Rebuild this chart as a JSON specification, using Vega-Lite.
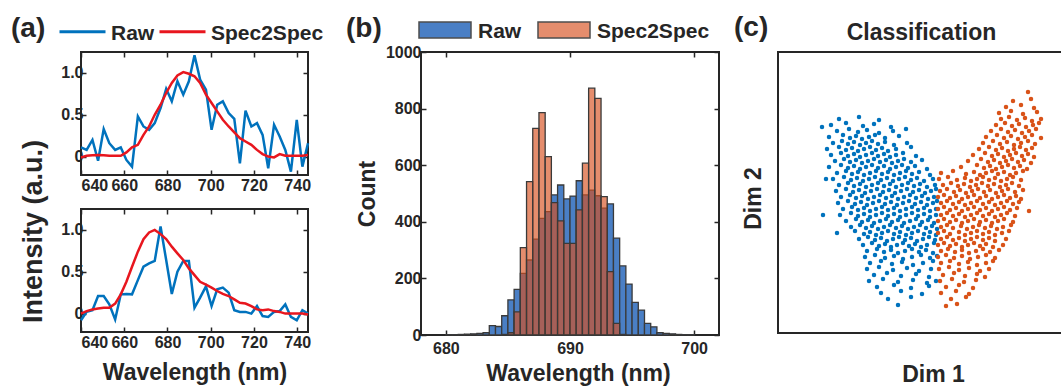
{
  "$schema": "https://vega.github.io/schema/vega-lite/v6.json",
  "background": "white",
  "padding": {"left": 10, "top": 14, "right": 0, "bottom": 0},
  "config": {
    "font": "Liberation Sans",
    "view": {"stroke": "#262626", "strokeWidth": 2},
    "axis": {"domain": false, "grid": false, "labelFont": "Liberation Sans", "labelFontWeight": "bold", "labelFontSize": 16, "labelColor": "#262626", "titleFont": "Liberation Sans", "titleFontWeight": "bold", "titleFontSize": 23, "titleColor": "#262626", "tickColor": "#262626", "tickWidth": 1.5, "tickSize": -5, "labelPadding": 7},
    "legend": {"padding": 0, "orient": "none", "direction": "horizontal", "titleOrient": "left", "titleFont": "Liberation Sans", "titleFontWeight": "bold", "titleFontSize": 28, "titleColor": "#262626", "labelFont": "Liberation Sans", "labelFontWeight": "bold", "labelFontSize": 21, "labelColor": "#262626"}
  },
  "datasets": {
    "specTop": [
      {"w":640,"s":"Raw","v":0.11},{"w":642.6,"s":"Raw","v":0.08},{"w":645.3,"s":"Raw","v":0.2},{"w":647.9,"s":"Raw","v":-0.05},{"w":650.5,"s":"Raw","v":0.33},{"w":653.1,"s":"Raw","v":0.16},{"w":655.8,"s":"Raw","v":0.08},{"w":658.4,"s":"Raw","v":0.11},{"w":661,"s":"Raw","v":-0.04},{"w":663.6,"s":"Raw","v":-0.12},{"w":666.3,"s":"Raw","v":0.48},{"w":668.9,"s":"Raw","v":0.36},{"w":671.5,"s":"Raw","v":0.32},{"w":674.1,"s":"Raw","v":0.4},{"w":676.8,"s":"Raw","v":0.58},{"w":679.4,"s":"Raw","v":0.81},{"w":682,"s":"Raw","v":0.66},{"w":684.6,"s":"Raw","v":0.9},{"w":687.3,"s":"Raw","v":0.74},{"w":689.9,"s":"Raw","v":0.9},{"w":692.5,"s":"Raw","v":1.21},{"w":695.1,"s":"Raw","v":0.92},{"w":697.8,"s":"Raw","v":0.8},{"w":700.4,"s":"Raw","v":0.32},{"w":703,"s":"Raw","v":0.62},{"w":705.6,"s":"Raw","v":0.66},{"w":708.3,"s":"Raw","v":0.52},{"w":710.9,"s":"Raw","v":0.45},{"w":713.5,"s":"Raw","v":-0.08},{"w":716.1,"s":"Raw","v":0.55},{"w":718.8,"s":"Raw","v":0.36},{"w":721.4,"s":"Raw","v":0.4},{"w":724,"s":"Raw","v":0.26},{"w":726.6,"s":"Raw","v":-0.14},{"w":729.3,"s":"Raw","v":0.38},{"w":731.9,"s":"Raw","v":0.24},{"w":734.5,"s":"Raw","v":0.08},{"w":737.1,"s":"Raw","v":-0.18},{"w":739.8,"s":"Raw","v":0.44},{"w":742.4,"s":"Raw","v":-0.12},{"w":745,"s":"Raw","v":0.16},
      {"w":640,"s":"Spec2Spec","v":-0.01},{"w":642.6,"s":"Spec2Spec","v":0.01},{"w":645.3,"s":"Spec2Spec","v":0.015},{"w":647.9,"s":"Spec2Spec","v":0.02},{"w":650.5,"s":"Spec2Spec","v":0.015},{"w":653.1,"s":"Spec2Spec","v":0.01},{"w":655.8,"s":"Spec2Spec","v":0.01},{"w":658.4,"s":"Spec2Spec","v":0.01},{"w":661,"s":"Spec2Spec","v":0.05},{"w":663.6,"s":"Spec2Spec","v":0.11},{"w":666.3,"s":"Spec2Spec","v":0.14},{"w":668.9,"s":"Spec2Spec","v":0.26},{"w":671.5,"s":"Spec2Spec","v":0.36},{"w":674.1,"s":"Spec2Spec","v":0.5},{"w":676.8,"s":"Spec2Spec","v":0.62},{"w":679.4,"s":"Spec2Spec","v":0.76},{"w":682,"s":"Spec2Spec","v":0.88},{"w":684.6,"s":"Spec2Spec","v":0.97},{"w":687.3,"s":"Spec2Spec","v":1.01},{"w":689.9,"s":"Spec2Spec","v":0.99},{"w":692.5,"s":"Spec2Spec","v":0.96},{"w":695.1,"s":"Spec2Spec","v":0.88},{"w":697.8,"s":"Spec2Spec","v":0.74},{"w":700.4,"s":"Spec2Spec","v":0.64},{"w":703,"s":"Spec2Spec","v":0.54},{"w":705.6,"s":"Spec2Spec","v":0.44},{"w":708.3,"s":"Spec2Spec","v":0.36},{"w":710.9,"s":"Spec2Spec","v":0.29},{"w":713.5,"s":"Spec2Spec","v":0.22},{"w":716.1,"s":"Spec2Spec","v":0.18},{"w":718.8,"s":"Spec2Spec","v":0.14},{"w":721.4,"s":"Spec2Spec","v":0.08},{"w":724,"s":"Spec2Spec","v":0.03},{"w":726.6,"s":"Spec2Spec","v":0},{"w":729.3,"s":"Spec2Spec","v":-0.01},{"w":731.9,"s":"Spec2Spec","v":0.03},{"w":734.5,"s":"Spec2Spec","v":0.01},{"w":737.1,"s":"Spec2Spec","v":0.01},{"w":739.8,"s":"Spec2Spec","v":0.01},{"w":742.4,"s":"Spec2Spec","v":0.01},{"w":745,"s":"Spec2Spec","v":0.02}
    ],
    "specBottom": [
      {"w":640,"s":"Raw","v":-0.08},{"w":642.6,"s":"Raw","v":0.02},{"w":645.3,"s":"Raw","v":0.04},{"w":647.9,"s":"Raw","v":0.21},{"w":650.5,"s":"Raw","v":0.21},{"w":653.1,"s":"Raw","v":0.11},{"w":655.8,"s":"Raw","v":-0.07},{"w":658.4,"s":"Raw","v":0.23},{"w":661,"s":"Raw","v":0.235},{"w":663.6,"s":"Raw","v":0.23},{"w":666.3,"s":"Raw","v":0.4},{"w":668.9,"s":"Raw","v":0.56},{"w":671.5,"s":"Raw","v":0.6},{"w":674.1,"s":"Raw","v":0.63},{"w":676.8,"s":"Raw","v":1.04},{"w":679.4,"s":"Raw","v":0.64},{"w":682,"s":"Raw","v":0.235},{"w":684.6,"s":"Raw","v":0.5},{"w":687.3,"s":"Raw","v":0.63},{"w":689.9,"s":"Raw","v":0.63},{"w":692.5,"s":"Raw","v":0.07},{"w":695.1,"s":"Raw","v":0.19},{"w":697.8,"s":"Raw","v":0.325},{"w":700.4,"s":"Raw","v":0.09},{"w":703,"s":"Raw","v":0.29},{"w":705.6,"s":"Raw","v":0.31},{"w":708.3,"s":"Raw","v":0.25},{"w":710.9,"s":"Raw","v":0.04},{"w":713.5,"s":"Raw","v":0.02},{"w":716.1,"s":"Raw","v":0.02},{"w":718.8,"s":"Raw","v":0},{"w":721.4,"s":"Raw","v":0.09},{"w":724,"s":"Raw","v":-0.03},{"w":726.6,"s":"Raw","v":-0.04},{"w":729.3,"s":"Raw","v":0.02},{"w":731.9,"s":"Raw","v":0.03},{"w":734.5,"s":"Raw","v":0.11},{"w":737.1,"s":"Raw","v":-0.04},{"w":739.8,"s":"Raw","v":-0.08},{"w":742.4,"s":"Raw","v":0.04},{"w":745,"s":"Raw","v":0},
      {"w":640,"s":"Spec2Spec","v":0},{"w":642.6,"s":"Spec2Spec","v":0.03},{"w":645.3,"s":"Spec2Spec","v":0.05},{"w":647.9,"s":"Spec2Spec","v":0.06},{"w":650.5,"s":"Spec2Spec","v":0.07},{"w":653.1,"s":"Spec2Spec","v":0.07},{"w":655.8,"s":"Spec2Spec","v":0.12},{"w":658.4,"s":"Spec2Spec","v":0.23},{"w":661,"s":"Spec2Spec","v":0.38},{"w":663.6,"s":"Spec2Spec","v":0.56},{"w":666.3,"s":"Spec2Spec","v":0.74},{"w":668.9,"s":"Spec2Spec","v":0.89},{"w":671.5,"s":"Spec2Spec","v":0.97},{"w":674.1,"s":"Spec2Spec","v":1.0},{"w":676.8,"s":"Spec2Spec","v":0.95},{"w":679.4,"s":"Spec2Spec","v":0.89},{"w":682,"s":"Spec2Spec","v":0.8},{"w":684.6,"s":"Spec2Spec","v":0.72},{"w":687.3,"s":"Spec2Spec","v":0.64},{"w":689.9,"s":"Spec2Spec","v":0.54},{"w":692.5,"s":"Spec2Spec","v":0.46},{"w":695.1,"s":"Spec2Spec","v":0.38},{"w":697.8,"s":"Spec2Spec","v":0.345},{"w":700.4,"s":"Spec2Spec","v":0.31},{"w":703,"s":"Spec2Spec","v":0.27},{"w":705.6,"s":"Spec2Spec","v":0.235},{"w":708.3,"s":"Spec2Spec","v":0.21},{"w":710.9,"s":"Spec2Spec","v":0.17},{"w":713.5,"s":"Spec2Spec","v":0.13},{"w":716.1,"s":"Spec2Spec","v":0.12},{"w":718.8,"s":"Spec2Spec","v":0.09},{"w":721.4,"s":"Spec2Spec","v":0.05},{"w":724,"s":"Spec2Spec","v":0.04},{"w":726.6,"s":"Spec2Spec","v":0.05},{"w":729.3,"s":"Spec2Spec","v":0.03},{"w":731.9,"s":"Spec2Spec","v":0.02},{"w":734.5,"s":"Spec2Spec","v":0},{"w":737.1,"s":"Spec2Spec","v":0},{"w":739.8,"s":"Spec2Spec","v":0},{"w":742.4,"s":"Spec2Spec","v":0},{"w":745,"s":"Spec2Spec","v":-0.01}
    ],
    "hist": [
      {"b":680,"e":680.5,"s":"Raw","n":1},{"b":680.5,"e":681,"s":"Raw","n":1},{"b":681,"e":681.5,"s":"Raw","n":2},{"b":681.5,"e":682,"s":"Raw","n":3},{"b":682,"e":682.5,"s":"Raw","n":4},{"b":682.5,"e":683,"s":"Raw","n":6},{"b":683,"e":683.5,"s":"Raw","n":8},{"b":683.5,"e":684,"s":"Raw","n":33},{"b":684,"e":684.5,"s":"Raw","n":30},{"b":684.5,"e":685,"s":"Raw","n":68},{"b":685,"e":685.5,"s":"Raw","n":124},{"b":685.5,"e":686,"s":"Raw","n":161},{"b":686,"e":686.5,"s":"Raw","n":218},{"b":686.5,"e":687,"s":"Raw","n":265},{"b":687,"e":687.5,"s":"Raw","n":339},{"b":687.5,"e":688,"s":"Raw","n":412},{"b":688,"e":688.5,"s":"Raw","n":436},{"b":688.5,"e":689,"s":"Raw","n":495},{"b":689,"e":689.5,"s":"Raw","n":530},{"b":689.5,"e":690,"s":"Raw","n":481},{"b":690,"e":690.5,"s":"Raw","n":491},{"b":690.5,"e":691,"s":"Raw","n":545},{"b":691,"e":691.5,"s":"Raw","n":495},{"b":691.5,"e":692,"s":"Raw","n":512},{"b":692,"e":692.5,"s":"Raw","n":492},{"b":692.5,"e":693,"s":"Raw","n":448},{"b":693,"e":693.5,"s":"Raw","n":463},{"b":693.5,"e":694,"s":"Raw","n":342},{"b":694,"e":694.5,"s":"Raw","n":244},{"b":694.5,"e":695,"s":"Raw","n":180},{"b":695,"e":695.5,"s":"Raw","n":115},{"b":695.5,"e":696,"s":"Raw","n":88},{"b":696,"e":696.5,"s":"Raw","n":41},{"b":696.5,"e":697,"s":"Raw","n":29},{"b":697,"e":697.5,"s":"Raw","n":8},{"b":697.5,"e":698,"s":"Raw","n":6},{"b":698,"e":698.5,"s":"Raw","n":4},{"b":698.5,"e":699,"s":"Raw","n":2},{"b":699,"e":699.5,"s":"Raw","n":1},{"b":699.5,"e":700,"s":"Raw","n":1},
      {"b":684.5,"e":685,"s":"Spec2Spec","n":2},{"b":685,"e":685.5,"s":"Spec2Spec","n":8},{"b":685.5,"e":686,"s":"Spec2Spec","n":82},{"b":686,"e":686.5,"s":"Spec2Spec","n":309},{"b":686.5,"e":687,"s":"Spec2Spec","n":542},{"b":687,"e":687.5,"s":"Spec2Spec","n":730},{"b":687.5,"e":688,"s":"Spec2Spec","n":786},{"b":688,"e":688.5,"s":"Spec2Spec","n":630},{"b":688.5,"e":689,"s":"Spec2Spec","n":468},{"b":689,"e":689.5,"s":"Spec2Spec","n":403},{"b":689.5,"e":690,"s":"Spec2Spec","n":324},{"b":690,"e":690.5,"s":"Spec2Spec","n":324},{"b":690.5,"e":691,"s":"Spec2Spec","n":442},{"b":691,"e":691.5,"s":"Spec2Spec","n":607},{"b":691.5,"e":692,"s":"Spec2Spec","n":872},{"b":692,"e":692.5,"s":"Spec2Spec","n":836},{"b":692.5,"e":693,"s":"Spec2Spec","n":489},{"b":693,"e":693.5,"s":"Spec2Spec","n":224},{"b":693.5,"e":694,"s":"Spec2Spec","n":41},{"b":694,"e":694.5,"s":"Spec2Spec","n":2}
    ],
    "scatter": [
      {"c":"A","x":61,"y":214},{"c":"A","x":81,"y":216},{"c":"A","x":101,"y":213},
      {"c":"A","x":53,"y":208},{"c":"A","x":68,"y":210},{"c":"A","x":85,"y":207},{"c":"A","x":96,"y":209},{"c":"A","x":113,"y":206},{"c":"A","x":44,"y":206},
      {"c":"A","x":59,"y":202},{"c":"A","x":71,"y":204},{"c":"A","x":80,"y":201},{"c":"A","x":89,"y":203},{"c":"A","x":101,"y":200},{"c":"A","x":115,"y":202},{"c":"A","x":128,"y":204},
      {"c":"A","x":51,"y":196},{"c":"A","x":65,"y":198},{"c":"A","x":72,"y":195},{"c":"A","x":78,"y":197},{"c":"A","x":84,"y":194},{"c":"A","x":91,"y":196},{"c":"A","x":97,"y":198},{"c":"A","x":107,"y":195},{"c":"A","x":121,"y":197},
      {"c":"A","x":55,"y":190},{"c":"A","x":64,"y":192},{"c":"A","x":70,"y":189},{"c":"A","x":76,"y":191},{"c":"A","x":82,"y":188},{"c":"A","x":88,"y":190},{"c":"A","x":94,"y":192},{"c":"A","x":100,"y":189},{"c":"A","x":107,"y":191},{"c":"A","x":116,"y":188},{"c":"A","x":129,"y":190},
      {"c":"A","x":49,"y":184},{"c":"A","x":61,"y":186},{"c":"A","x":68,"y":183},{"c":"A","x":74,"y":185},{"c":"A","x":80,"y":182},{"c":"A","x":86,"y":184},{"c":"A","x":92,"y":186},{"c":"A","x":98,"y":183},{"c":"A","x":104,"y":185},{"c":"A","x":110,"y":182},{"c":"A","x":118,"y":184},{"c":"A","x":133,"y":186},
      {"c":"A","x":53,"y":178},{"c":"A","x":63,"y":180},{"c":"A","x":70,"y":177},{"c":"A","x":76,"y":179},{"c":"A","x":82,"y":176},{"c":"A","x":88,"y":178},{"c":"A","x":94,"y":180},{"c":"A","x":100,"y":177},{"c":"A","x":106,"y":179},{"c":"A","x":112,"y":176},{"c":"A","x":118,"y":178},{"c":"A","x":125,"y":180},{"c":"A","x":138,"y":177},
      {"c":"A","x":57,"y":172},{"c":"A","x":66,"y":174},{"c":"A","x":72,"y":171},{"c":"A","x":78,"y":173},{"c":"A","x":84,"y":170},{"c":"A","x":90,"y":172},{"c":"A","x":96,"y":174},{"c":"A","x":102,"y":171},{"c":"A","x":108,"y":173},{"c":"A","x":114,"y":170},{"c":"A","x":120,"y":172},{"c":"A","x":126,"y":174},{"c":"A","x":133,"y":171},{"c":"A","x":144,"y":173},
      {"c":"A","x":51,"y":166},{"c":"A","x":63,"y":168},{"c":"A","x":70,"y":165},{"c":"A","x":76,"y":167},{"c":"A","x":82,"y":164},{"c":"A","x":88,"y":166},{"c":"A","x":94,"y":168},{"c":"A","x":100,"y":165},{"c":"A","x":106,"y":167},{"c":"A","x":112,"y":164},{"c":"A","x":118,"y":166},{"c":"A","x":124,"y":168},{"c":"A","x":130,"y":165},{"c":"A","x":137,"y":167},{"c":"A","x":149,"y":164},
      {"c":"A","x":59,"y":160},{"c":"A","x":68,"y":162},{"c":"A","x":74,"y":159},{"c":"A","x":80,"y":161},{"c":"A","x":86,"y":158},{"c":"A","x":92,"y":160},{"c":"A","x":98,"y":162},{"c":"A","x":104,"y":159},{"c":"A","x":110,"y":161},{"c":"A","x":116,"y":158},{"c":"A","x":122,"y":160},{"c":"A","x":128,"y":162},{"c":"A","x":134,"y":159},{"c":"A","x":141,"y":161},{"c":"A","x":152,"y":158},
      {"c":"A","x":55,"y":154},{"c":"A","x":66,"y":156},{"c":"A","x":73,"y":153},{"c":"A","x":79,"y":155},{"c":"A","x":85,"y":152},{"c":"A","x":91,"y":154},{"c":"A","x":97,"y":156},{"c":"A","x":103,"y":153},{"c":"A","x":109,"y":155},{"c":"A","x":115,"y":152},{"c":"A","x":121,"y":154},{"c":"A","x":127,"y":156},{"c":"A","x":133,"y":153},{"c":"A","x":139,"y":155},{"c":"A","x":146,"y":152},{"c":"A","x":155,"y":154},{"c":"A","x":48,"y":154},
      {"c":"A","x":61,"y":148},{"c":"A","x":70,"y":150},{"c":"A","x":76,"y":147},{"c":"A","x":82,"y":149},{"c":"A","x":88,"y":146},{"c":"A","x":94,"y":148},{"c":"A","x":100,"y":150},{"c":"A","x":106,"y":147},{"c":"A","x":112,"y":149},{"c":"A","x":118,"y":146},{"c":"A","x":124,"y":148},{"c":"A","x":130,"y":150},{"c":"A","x":136,"y":147},{"c":"A","x":142,"y":149},{"c":"A","x":149,"y":146},{"c":"A","x":157,"y":148},
      {"c":"A","x":58,"y":142},{"c":"A","x":68,"y":144},{"c":"A","x":75,"y":141},{"c":"A","x":81,"y":143},{"c":"A","x":87,"y":140},{"c":"A","x":93,"y":142},{"c":"A","x":99,"y":144},{"c":"A","x":105,"y":141},{"c":"A","x":111,"y":143},{"c":"A","x":117,"y":140},{"c":"A","x":123,"y":142},{"c":"A","x":129,"y":144},{"c":"A","x":135,"y":141},{"c":"A","x":141,"y":143},{"c":"A","x":147,"y":140},{"c":"A","x":153,"y":142},{"c":"A","x":158,"y":144},
      {"c":"A","x":63,"y":136},{"c":"A","x":72,"y":138},{"c":"A","x":78,"y":135},{"c":"A","x":84,"y":137},{"c":"A","x":90,"y":134},{"c":"A","x":96,"y":136},{"c":"A","x":102,"y":138},{"c":"A","x":108,"y":135},{"c":"A","x":114,"y":137},{"c":"A","x":120,"y":134},{"c":"A","x":126,"y":136},{"c":"A","x":132,"y":138},{"c":"A","x":138,"y":135},{"c":"A","x":144,"y":137},{"c":"A","x":150,"y":134},{"c":"A","x":156,"y":136},
      {"c":"A","x":60,"y":130},{"c":"A","x":70,"y":132},{"c":"A","x":77,"y":129},{"c":"A","x":83,"y":131},{"c":"A","x":89,"y":128},{"c":"A","x":95,"y":130},{"c":"A","x":101,"y":132},{"c":"A","x":107,"y":129},{"c":"A","x":113,"y":131},{"c":"A","x":119,"y":128},{"c":"A","x":125,"y":130},{"c":"A","x":131,"y":132},{"c":"A","x":137,"y":129},{"c":"A","x":143,"y":131},{"c":"A","x":149,"y":128},{"c":"A","x":155,"y":130},{"c":"A","x":159,"y":132},
      {"c":"A","x":65,"y":124},{"c":"A","x":74,"y":126},{"c":"A","x":80,"y":123},{"c":"A","x":86,"y":125},{"c":"A","x":92,"y":122},{"c":"A","x":98,"y":124},{"c":"A","x":104,"y":126},{"c":"A","x":110,"y":123},{"c":"A","x":116,"y":125},{"c":"A","x":122,"y":122},{"c":"A","x":128,"y":124},{"c":"A","x":134,"y":126},{"c":"A","x":140,"y":123},{"c":"A","x":146,"y":125},{"c":"A","x":152,"y":122},{"c":"A","x":158,"y":124},
      {"c":"A","x":62,"y":118},{"c":"A","x":73,"y":120},{"c":"A","x":80,"y":117},{"c":"A","x":86,"y":119},{"c":"A","x":92,"y":116},{"c":"A","x":98,"y":118},{"c":"A","x":104,"y":120},{"c":"A","x":110,"y":117},{"c":"A","x":116,"y":119},{"c":"A","x":122,"y":116},{"c":"A","x":128,"y":118},{"c":"A","x":134,"y":120},{"c":"A","x":140,"y":117},{"c":"A","x":146,"y":119},{"c":"A","x":152,"y":116},{"c":"A","x":158,"y":118},{"c":"A","x":45,"y":118},
      {"c":"A","x":68,"y":112},{"c":"A","x":78,"y":114},{"c":"A","x":84,"y":111},{"c":"A","x":90,"y":113},{"c":"A","x":96,"y":110},{"c":"A","x":102,"y":112},{"c":"A","x":108,"y":114},{"c":"A","x":114,"y":111},{"c":"A","x":120,"y":113},{"c":"A","x":126,"y":110},{"c":"A","x":132,"y":112},{"c":"A","x":138,"y":114},{"c":"A","x":144,"y":111},{"c":"A","x":150,"y":113},{"c":"A","x":156,"y":110},
      {"c":"A","x":73,"y":106},{"c":"A","x":82,"y":108},{"c":"A","x":88,"y":105},{"c":"A","x":94,"y":107},{"c":"A","x":100,"y":104},{"c":"A","x":106,"y":106},{"c":"A","x":112,"y":108},{"c":"A","x":118,"y":105},{"c":"A","x":124,"y":107},{"c":"A","x":130,"y":104},{"c":"A","x":136,"y":106},{"c":"A","x":142,"y":108},{"c":"A","x":148,"y":105},{"c":"A","x":154,"y":107},{"c":"A","x":159,"y":104},
      {"c":"A","x":59,"y":100},{"c":"A","x":77,"y":102},{"c":"A","x":86,"y":99},{"c":"A","x":92,"y":101},{"c":"A","x":98,"y":98},{"c":"A","x":104,"y":100},{"c":"A","x":110,"y":102},{"c":"A","x":116,"y":99},{"c":"A","x":122,"y":101},{"c":"A","x":128,"y":98},{"c":"A","x":134,"y":100},{"c":"A","x":140,"y":102},{"c":"A","x":146,"y":99},{"c":"A","x":152,"y":101},{"c":"A","x":158,"y":98},
      {"c":"A","x":81,"y":94},{"c":"A","x":90,"y":96},{"c":"A","x":97,"y":93},{"c":"A","x":103,"y":95},{"c":"A","x":109,"y":92},{"c":"A","x":115,"y":94},{"c":"A","x":121,"y":96},{"c":"A","x":127,"y":93},{"c":"A","x":133,"y":95},{"c":"A","x":139,"y":92},{"c":"A","x":145,"y":94},{"c":"A","x":151,"y":96},{"c":"A","x":157,"y":93},
      {"c":"A","x":85,"y":88},{"c":"A","x":94,"y":90},{"c":"A","x":101,"y":87},{"c":"A","x":107,"y":89},{"c":"A","x":113,"y":86},{"c":"A","x":119,"y":88},{"c":"A","x":125,"y":90},{"c":"A","x":131,"y":87},{"c":"A","x":137,"y":89},{"c":"A","x":143,"y":86},{"c":"A","x":149,"y":88},{"c":"A","x":156,"y":90},
      {"c":"A","x":89,"y":82},{"c":"A","x":99,"y":84},{"c":"A","x":106,"y":81},{"c":"A","x":113,"y":83},{"c":"A","x":120,"y":80},{"c":"A","x":127,"y":82},{"c":"A","x":134,"y":84},{"c":"A","x":141,"y":81},{"c":"A","x":148,"y":83},{"c":"A","x":155,"y":80},
      {"c":"A","x":87,"y":76},{"c":"A","x":97,"y":78},{"c":"A","x":107,"y":75},{"c":"A","x":116,"y":77},{"c":"A","x":125,"y":74},{"c":"A","x":134,"y":76},{"c":"A","x":143,"y":78},{"c":"A","x":152,"y":75},{"c":"A","x":159,"y":77},
      {"c":"A","x":92,"y":70},{"c":"A","x":103,"y":72},{"c":"A","x":114,"y":69},{"c":"A","x":124,"y":71},{"c":"A","x":135,"y":68},{"c":"A","x":145,"y":70},{"c":"A","x":155,"y":72},
      {"c":"A","x":89,"y":64},{"c":"A","x":101,"y":66},{"c":"A","x":115,"y":63},{"c":"A","x":129,"y":65},{"c":"A","x":141,"y":62},{"c":"A","x":153,"y":64},
      {"c":"A","x":96,"y":58},{"c":"A","x":109,"y":60},{"c":"A","x":123,"y":57},{"c":"A","x":138,"y":59},{"c":"A","x":151,"y":56},
      {"c":"A","x":91,"y":52},{"c":"A","x":105,"y":54},{"c":"A","x":120,"y":51},{"c":"A","x":135,"y":53},{"c":"A","x":149,"y":50},{"c":"A","x":158,"y":52},
      {"c":"A","x":99,"y":46},{"c":"A","x":116,"y":48},{"c":"A","x":133,"y":45},{"c":"A","x":151,"y":47},
      {"c":"A","x":103,"y":40},{"c":"A","x":123,"y":42},{"c":"A","x":144,"y":39},
      {"c":"A","x":110,"y":34},{"c":"A","x":133,"y":36},
      {"c":"A","x":120,"y":28},
      {"c":"B","x":250,"y":241},
      {"c":"B","x":235,"y":232},{"c":"B","x":253,"y":234},
      {"c":"B","x":228,"y":226},{"c":"B","x":243,"y":228},{"c":"B","x":256,"y":225},
      {"c":"B","x":221,"y":220},{"c":"B","x":233,"y":222},{"c":"B","x":245,"y":219},{"c":"B","x":259,"y":221},
      {"c":"B","x":223,"y":214},{"c":"B","x":231,"y":216},{"c":"B","x":239,"y":213},{"c":"B","x":247,"y":215},{"c":"B","x":254,"y":212},{"c":"B","x":263,"y":214},
      {"c":"B","x":218,"y":208},{"c":"B","x":227,"y":210},{"c":"B","x":234,"y":207},{"c":"B","x":241,"y":209},{"c":"B","x":248,"y":206},{"c":"B","x":255,"y":208},{"c":"B","x":261,"y":210},
      {"c":"B","x":213,"y":202},{"c":"B","x":223,"y":204},{"c":"B","x":230,"y":201},{"c":"B","x":237,"y":203},{"c":"B","x":244,"y":200},{"c":"B","x":251,"y":202},{"c":"B","x":258,"y":204},
      {"c":"B","x":208,"y":196},{"c":"B","x":219,"y":198},{"c":"B","x":226,"y":195},{"c":"B","x":233,"y":197},{"c":"B","x":240,"y":194},{"c":"B","x":247,"y":196},{"c":"B","x":254,"y":198},{"c":"B","x":263,"y":195},
      {"c":"B","x":205,"y":190},{"c":"B","x":215,"y":192},{"c":"B","x":222,"y":189},{"c":"B","x":229,"y":191},{"c":"B","x":236,"y":188},{"c":"B","x":243,"y":190},{"c":"B","x":250,"y":192},{"c":"B","x":257,"y":189},
      {"c":"B","x":201,"y":184},{"c":"B","x":211,"y":186},{"c":"B","x":218,"y":183},{"c":"B","x":224,"y":185},{"c":"B","x":230,"y":182},{"c":"B","x":236,"y":184},{"c":"B","x":242,"y":186},{"c":"B","x":248,"y":183},{"c":"B","x":254,"y":185},
      {"c":"B","x":195,"y":178},{"c":"B","x":207,"y":180},{"c":"B","x":214,"y":177},{"c":"B","x":220,"y":179},{"c":"B","x":226,"y":176},{"c":"B","x":232,"y":178},{"c":"B","x":238,"y":180},{"c":"B","x":244,"y":177},{"c":"B","x":250,"y":179},{"c":"B","x":256,"y":176},
      {"c":"B","x":190,"y":172},{"c":"B","x":203,"y":174},{"c":"B","x":210,"y":171},{"c":"B","x":216,"y":173},{"c":"B","x":222,"y":170},{"c":"B","x":228,"y":172},{"c":"B","x":234,"y":174},{"c":"B","x":240,"y":171},{"c":"B","x":246,"y":173},{"c":"B","x":253,"y":170},
      {"c":"B","x":183,"y":166},{"c":"B","x":199,"y":168},{"c":"B","x":206,"y":165},{"c":"B","x":212,"y":167},{"c":"B","x":218,"y":164},{"c":"B","x":224,"y":166},{"c":"B","x":230,"y":168},{"c":"B","x":236,"y":165},{"c":"B","x":242,"y":167},{"c":"B","x":249,"y":164},
      {"c":"B","x":163,"y":160},{"c":"B","x":175,"y":162},{"c":"B","x":188,"y":159},{"c":"B","x":196,"y":161},{"c":"B","x":202,"y":158},{"c":"B","x":208,"y":160},{"c":"B","x":214,"y":162},{"c":"B","x":220,"y":159},{"c":"B","x":226,"y":161},{"c":"B","x":232,"y":158},{"c":"B","x":238,"y":160},{"c":"B","x":245,"y":162},
      {"c":"B","x":161,"y":154},{"c":"B","x":170,"y":156},{"c":"B","x":179,"y":153},{"c":"B","x":187,"y":155},{"c":"B","x":193,"y":152},{"c":"B","x":199,"y":154},{"c":"B","x":205,"y":156},{"c":"B","x":211,"y":153},{"c":"B","x":217,"y":155},{"c":"B","x":223,"y":152},{"c":"B","x":229,"y":154},{"c":"B","x":235,"y":156},{"c":"B","x":243,"y":153},
      {"c":"B","x":165,"y":148},{"c":"B","x":173,"y":150},{"c":"B","x":180,"y":147},{"c":"B","x":186,"y":149},{"c":"B","x":192,"y":146},{"c":"B","x":198,"y":148},{"c":"B","x":204,"y":150},{"c":"B","x":210,"y":147},{"c":"B","x":216,"y":149},{"c":"B","x":222,"y":146},{"c":"B","x":228,"y":148},{"c":"B","x":234,"y":150},{"c":"B","x":241,"y":147},
      {"c":"B","x":162,"y":142},{"c":"B","x":169,"y":144},{"c":"B","x":176,"y":141},{"c":"B","x":182,"y":143},{"c":"B","x":188,"y":140},{"c":"B","x":194,"y":142},{"c":"B","x":200,"y":144},{"c":"B","x":206,"y":141},{"c":"B","x":212,"y":143},{"c":"B","x":218,"y":140},{"c":"B","x":224,"y":142},{"c":"B","x":230,"y":144},{"c":"B","x":237,"y":141},{"c":"B","x":245,"y":143},
      {"c":"B","x":160,"y":136},{"c":"B","x":166,"y":138},{"c":"B","x":172,"y":135},{"c":"B","x":178,"y":137},{"c":"B","x":184,"y":134},{"c":"B","x":190,"y":136},{"c":"B","x":196,"y":138},{"c":"B","x":202,"y":135},{"c":"B","x":208,"y":137},{"c":"B","x":214,"y":134},{"c":"B","x":220,"y":136},{"c":"B","x":226,"y":138},{"c":"B","x":232,"y":135},{"c":"B","x":238,"y":137},{"c":"B","x":243,"y":134},
      {"c":"B","x":163,"y":130},{"c":"B","x":169,"y":132},{"c":"B","x":175,"y":129},{"c":"B","x":181,"y":131},{"c":"B","x":187,"y":128},{"c":"B","x":193,"y":130},{"c":"B","x":199,"y":132},{"c":"B","x":205,"y":129},{"c":"B","x":211,"y":131},{"c":"B","x":217,"y":128},{"c":"B","x":223,"y":130},{"c":"B","x":229,"y":132},{"c":"B","x":235,"y":129},{"c":"B","x":241,"y":131},
      {"c":"B","x":160,"y":124},{"c":"B","x":166,"y":126},{"c":"B","x":172,"y":123},{"c":"B","x":178,"y":125},{"c":"B","x":184,"y":122},{"c":"B","x":190,"y":124},{"c":"B","x":196,"y":126},{"c":"B","x":202,"y":123},{"c":"B","x":208,"y":125},{"c":"B","x":214,"y":122},{"c":"B","x":220,"y":124},{"c":"B","x":226,"y":126},{"c":"B","x":232,"y":123},{"c":"B","x":239,"y":125},{"c":"B","x":251,"y":122},
      {"c":"B","x":163,"y":118},{"c":"B","x":169,"y":120},{"c":"B","x":175,"y":117},{"c":"B","x":181,"y":119},{"c":"B","x":187,"y":116},{"c":"B","x":193,"y":118},{"c":"B","x":199,"y":120},{"c":"B","x":205,"y":117},{"c":"B","x":211,"y":119},{"c":"B","x":217,"y":116},{"c":"B","x":223,"y":118},{"c":"B","x":229,"y":120},{"c":"B","x":237,"y":117},
      {"c":"B","x":160,"y":112},{"c":"B","x":166,"y":114},{"c":"B","x":172,"y":111},{"c":"B","x":178,"y":113},{"c":"B","x":184,"y":110},{"c":"B","x":190,"y":112},{"c":"B","x":196,"y":114},{"c":"B","x":202,"y":111},{"c":"B","x":208,"y":113},{"c":"B","x":214,"y":110},{"c":"B","x":220,"y":112},{"c":"B","x":226,"y":114},{"c":"B","x":235,"y":111},
      {"c":"B","x":163,"y":106},{"c":"B","x":169,"y":108},{"c":"B","x":175,"y":105},{"c":"B","x":183,"y":107},{"c":"B","x":189,"y":104},{"c":"B","x":195,"y":106},{"c":"B","x":201,"y":108},{"c":"B","x":207,"y":105},{"c":"B","x":213,"y":107},{"c":"B","x":219,"y":104},{"c":"B","x":225,"y":106},{"c":"B","x":233,"y":108},
      {"c":"B","x":160,"y":100},{"c":"B","x":166,"y":102},{"c":"B","x":172,"y":99},{"c":"B","x":181,"y":101},{"c":"B","x":187,"y":98},{"c":"B","x":193,"y":100},{"c":"B","x":199,"y":102},{"c":"B","x":205,"y":99},{"c":"B","x":211,"y":101},{"c":"B","x":217,"y":98},{"c":"B","x":224,"y":100},{"c":"B","x":231,"y":102},
      {"c":"B","x":163,"y":94},{"c":"B","x":169,"y":96},{"c":"B","x":175,"y":93},{"c":"B","x":181,"y":95},{"c":"B","x":187,"y":92},{"c":"B","x":193,"y":94},{"c":"B","x":199,"y":96},{"c":"B","x":205,"y":93},{"c":"B","x":211,"y":95},{"c":"B","x":217,"y":92},{"c":"B","x":228,"y":94},
      {"c":"B","x":160,"y":88},{"c":"B","x":166,"y":90},{"c":"B","x":172,"y":87},{"c":"B","x":178,"y":89},{"c":"B","x":184,"y":86},{"c":"B","x":190,"y":88},{"c":"B","x":196,"y":90},{"c":"B","x":202,"y":87},{"c":"B","x":208,"y":89},{"c":"B","x":215,"y":86},{"c":"B","x":225,"y":88},
      {"c":"B","x":163,"y":82},{"c":"B","x":170,"y":84},{"c":"B","x":177,"y":81},{"c":"B","x":184,"y":83},{"c":"B","x":191,"y":80},{"c":"B","x":198,"y":82},{"c":"B","x":205,"y":84},{"c":"B","x":212,"y":81},{"c":"B","x":221,"y":83},
      {"c":"B","x":160,"y":76},{"c":"B","x":168,"y":78},{"c":"B","x":176,"y":75},{"c":"B","x":184,"y":77},{"c":"B","x":192,"y":74},{"c":"B","x":200,"y":76},{"c":"B","x":208,"y":78},{"c":"B","x":217,"y":75},
      {"c":"B","x":163,"y":70},{"c":"B","x":172,"y":72},{"c":"B","x":181,"y":69},{"c":"B","x":190,"y":71},{"c":"B","x":199,"y":68},{"c":"B","x":208,"y":70},{"c":"B","x":215,"y":72},
      {"c":"B","x":161,"y":64},{"c":"B","x":171,"y":66},{"c":"B","x":181,"y":63},{"c":"B","x":191,"y":65},{"c":"B","x":202,"y":62},{"c":"B","x":211,"y":64},
      {"c":"B","x":165,"y":58},{"c":"B","x":176,"y":60},{"c":"B","x":187,"y":57},{"c":"B","x":199,"y":59},{"c":"B","x":207,"y":56},
      {"c":"B","x":162,"y":52},{"c":"B","x":174,"y":54},{"c":"B","x":186,"y":51},{"c":"B","x":198,"y":53},
      {"c":"B","x":168,"y":46},{"c":"B","x":181,"y":48},{"c":"B","x":195,"y":45},
      {"c":"B","x":163,"y":40},{"c":"B","x":178,"y":42},{"c":"B","x":191,"y":39},
      {"c":"B","x":173,"y":34},{"c":"B","x":188,"y":36},
      {"c":"B","x":168,"y":27},{"c":"B","x":179,"y":29}
    ]
  },
  "bounds": "flush",
  "spacing": 340,
  "resolve": {"scale": {"color": "independent", "fillOpacity": "independent"}, "legend": {"color": "independent", "fillOpacity": "independent"}},
  "hconcat": [
    {
      "bounds": "flush",
      "spacing": 34,
      "resolve": {"scale": {"color": "independent"}, "legend": {"color": "independent"}},
      "vconcat": [
        {
          "width": 227,
          "height": 123,
          "data": {"name": "specTop"},
          "layer": [
            {
              "mark": {"type": "line", "strokeWidth": 2.5},
              "encoding": {
                "x": {"field": "w", "type": "quantitative", "scale": {"domain": [640, 745], "nice": false, "zero": false}, "axis": {"values": [640, 660, 680, 700, 720, 740], "title": null, "labelPadding": 7}},
                "y": {"field": "v", "type": "quantitative", "scale": {"domain": [-0.22, 1.25], "nice": false, "zero": false}, "axis": {"values": [0, 0.5, 1], "labelExpr": "datum.value === 0 ? '0' : format(datum.value, '.1f')", "title": null, "labelPadding": 3}},
                "color": {"field": "s", "type": "nominal", "scale": {"domain": ["Raw", "Spec2Spec"], "range": ["#0072BD", "#E8161E"]}, "legend": {"title": "(a)", "legendX": -70, "legendY": -37, "symbolType": "M-1,-0.35H1", "symbolSize": 2116, "symbolStrokeWidth": 3, "labelOffset": 4, "labelBaseline": "alphabetic", "columnPadding": -2, "titlePadding": 12}}
              }
            },
            {
              "mark": {"type": "line", "strokeOpacity": 0},
              "encoding": {
                "x": {"field": "w", "type": "quantitative", "scale": {"domain": [640, 745], "nice": false, "zero": false}, "axis": {"orient": "top", "values": [640, 660, 680, 700, 720, 740], "labels": false, "title": null}},
                "y": {"field": "v", "type": "quantitative", "scale": {"domain": [-0.22, 1.25], "nice": false, "zero": false}, "axis": {"orient": "right", "values": [0, 0.5, 1], "labels": false, "title": null}},
                "detail": {"field": "s"}
              }
            }
          ],
          "resolve": {"axis": {"x": "independent", "y": "independent"}}
        },
        {
          "width": 227,
          "height": 123,
          "data": {"name": "specBottom"},
          "layer": [
            {
              "mark": {"type": "line", "strokeWidth": 2.5},
              "encoding": {
                "x": {"field": "w", "type": "quantitative", "scale": {"domain": [640, 745], "nice": false, "zero": false}, "axis": {"values": [640, 660, 680, 700, 720, 740], "title": "Wavelength (nm)", "labelPadding": 7, "titleBaseline": "alphabetic", "titleY": 47}},
                "y": {"field": "v", "type": "quantitative", "scale": {"domain": [-0.22, 1.25], "nice": false, "zero": false}, "axis": {"values": [0, 0.5, 1], "labelExpr": "datum.value === 0 ? '0' : format(datum.value, '.1f')", "title": "Intensity (a.u.)", "titleFontSize": 27, "labelPadding": 3, "titleBaseline": "alphabetic", "titleX": -40, "titleY": 22}},
                "color": {"field": "s", "type": "nominal", "scale": {"domain": ["Raw", "Spec2Spec"], "range": ["#0072BD", "#E8161E"]}, "legend": null}
              }
            },
            {
              "mark": {"type": "line", "strokeOpacity": 0},
              "encoding": {
                "x": {"field": "w", "type": "quantitative", "scale": {"domain": [640, 745], "nice": false, "zero": false}, "axis": {"orient": "top", "values": [640, 660, 680, 700, 720, 740], "labels": false, "title": null}},
                "y": {"field": "v", "type": "quantitative", "scale": {"domain": [-0.22, 1.25], "nice": false, "zero": false}, "axis": {"orient": "right", "values": [0, 0.5, 1], "labels": false, "title": null}},
                "detail": {"field": "s"}
              }
            }
          ],
          "resolve": {"axis": {"x": "independent", "y": "independent"}}
        }
      ]
    },
    {
      "bounds": "flush",
      "spacing": 59,
      "resolve": {"scale": {"color": "independent", "fillOpacity": "independent"}, "legend": {"color": "independent", "fillOpacity": "independent"}},
      "hconcat": [
        {
          "width": 298,
          "height": 283,
          "data": {"name": "hist"},
          "layer": [
            {
              "mark": {"type": "bar", "stroke": "#3a3a3a", "strokeWidth": 1.3},
              "encoding": {
                "x": {"field": "b", "type": "quantitative", "scale": {"domain": [678, 702], "nice": false, "zero": false}, "axis": {"values": [680, 690, 700], "title": "Wavelength (nm)", "labelPadding": 10, "titleBaseline": "alphabetic", "titleY": 45, "titleX": 157}},
                "x2": {"field": "e"},
                "y": {"field": "n", "type": "quantitative", "stack": null, "scale": {"domain": [0, 1000], "nice": false, "zero": true}, "axis": {"values": [0, 200, 400, 600, 800, 1000], "format": "d", "title": "Count", "labelPadding": 5, "titleBaseline": "alphabetic", "titleX": -47}},
                "y2": {"datum": 0},
                "color": {"field": "s", "type": "nominal", "scale": {"domain": ["Raw", "Spec2Spec"], "range": ["#4A7FC5", "#D7501E"]}, "legend": {"title": "(b)", "legendX": -75, "legendY": -37, "symbolType": "M-1,-0.77H1V-0.15H-1Z", "symbolSize": 2704, "symbolStrokeColor": "#4d4d4d", "symbolStrokeWidth": 1.5, "labelOffset": 6, "labelBaseline": "bottom", "columnPadding": 13, "titlePadding": 36, "encode": {"symbols": {"update": {"fillOpacity": {"signal": "datum.value === 'Raw' ? 1 : 0.65"}}}}}},
                "fillOpacity": {"field": "s", "type": "nominal", "scale": {"domain": ["Raw", "Spec2Spec"], "range": [1, 0.65]}, "legend": null}
              }
            },
            {
              "mark": {"type": "point", "opacity": 0},
              "encoding": {
                "x": {"field": "b", "type": "quantitative", "scale": {"domain": [678, 702], "nice": false, "zero": false}, "axis": {"orient": "top", "values": [680, 690, 700], "labels": false, "title": null}},
                "y": {"field": "n", "type": "quantitative", "scale": {"domain": [0, 1000], "nice": false}, "axis": {"orient": "right", "values": [0, 200, 400, 600, 800, 1000], "labels": false, "title": null}}
              }
            }
          ],
          "resolve": {"axis": {"x": "independent", "y": "independent"}}
        },
        {
          "width": 287,
          "height": 281,
          "data": {"name": "scatter"},
          "layer": [
            {
              "mark": {"type": "circle", "size": 20, "opacity": 1},
              "encoding": {
                "x": {"field": "x", "type": "quantitative", "scale": {"domain": [0, 287], "nice": false, "zero": false}, "axis": {"title": "Dim 1", "labels": false, "ticks": false, "titleBaseline": "alphabetic", "titleY": 48, "titleX": 155}},
                "y": {"field": "y", "type": "quantitative", "scale": {"domain": [0, 281], "nice": false, "zero": false}, "axis": {"title": "Dim 2", "labels": false, "ticks": false, "titleBaseline": "alphabetic", "titleX": -18, "titleY": 146}},
                "color": {"field": "c", "type": "nominal", "scale": {"domain": ["A", "B"], "range": ["#0072BD", "#D95319"]}, "legend": {"title": "(c)", "legendX": -44, "legendY": -37, "symbolType": "stroke", "symbolSize": 784, "symbolOpacity": 0, "labelExpr": "''", "titlePadding": 10}}
              }
            },
            {
              "mark": {"type": "point", "opacity": 0},
              "encoding": {
                "x": {"field": "x", "type": "quantitative", "scale": {"domain": [0, 287], "nice": false, "zero": false}, "axis": {"orient": "top", "title": "Classification", "labels": false, "ticks": false, "titleBaseline": "alphabetic", "titleY": -13, "titleX": 143}},
                "y": {"field": "y", "type": "quantitative", "scale": {"domain": [0, 281], "nice": false, "zero": false}, "axis": {"orient": "right", "title": null, "labels": false, "ticks": false}}
              }
            }
          ],
          "resolve": {"axis": {"x": "independent", "y": "independent"}}
        }
      ]
    }
  ]
}
